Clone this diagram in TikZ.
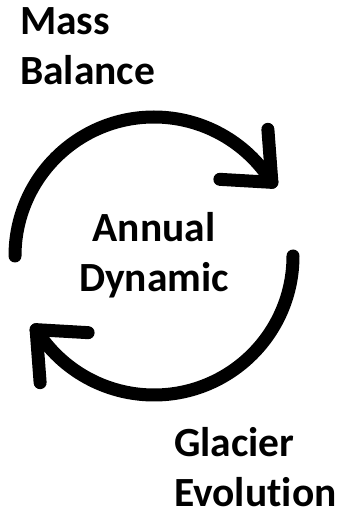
\documentclass[tikz,border=0pt]{standalone}
\usepackage{fontspec}
\setmainfont{Carlito}[Ligatures=NoCommon]
\usetikzlibrary{calc}
\begin{document}
\begin{tikzpicture}[x=1pt,y=1pt,
  lbl/.style={font=\bfseries\fontsize{41.5}{50}\selectfont, inner sep=0pt},
  cyc/.style={line width=13pt, line cap=round, line join=round}]
\useasboundingbox (0,0) rectangle (340,512);
\fill[white] (0,0) rectangle (340,512);
\coordinate (c) at (154,256);
\node[lbl, align=left, anchor=north west] (mass) at (20,505) {Mass\\Balance};
\node[lbl, align=center, anchor=north] (annual) at (154,300) {Annual\\Dynamic};
\node[lbl, align=left, anchor=north west] (glacier) at (174,85) {Glacier\\Evolution};
% top arrow
\draw[cyc] (c) ++(180:139) coordinate (startA) arc[start angle=180, end angle=32, radius=139] coordinate (cornerA);
\draw[cyc] ($(cornerA)+(-52,3)$) -- (cornerA) -- ++(-4,53);
% bottom arrow
\draw[cyc] (c) ++(0:139) coordinate (startB) arc[start angle=0, end angle=-148, radius=139] coordinate (cornerB);
\draw[cyc] ($(cornerB)+(52,-3)$) -- (cornerB) -- ++(4,-53);
\end{tikzpicture}
\end{document}
